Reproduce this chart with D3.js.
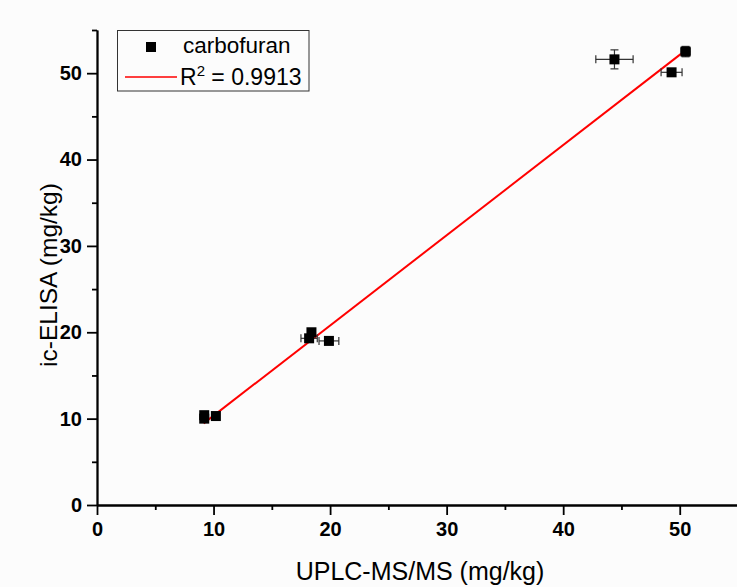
<!DOCTYPE html>
<html>
<head>
<meta charset="utf-8">
<script src="https://cdn.jsdelivr.net/npm/d3@7"></script>
<style>
  body { margin: 0; background: #fcfcfc; }
  svg { display: block; font-family: "Liberation Sans", Arial, sans-serif; }
</style>
</head>
<body>
<div id="chart"></div>
<script>
// data
var uplc  = [9.2, 9.2, 10.2, 18.4, 18.2, 19.9, 44.4, 49.3, 50.5];
var elisa = [10.0, 10.4, 10.3, 20.0, 19.3, 19.0, 51.6, 50.1, 52.5];
var xErr  = [0.3, 0.3, 0.3, 0.3, 0.7, 0.85, 1.6, 0.9, 0.4];
var yErr  = [0.3, 0.3, 0.3, 0.3, 0.3, 0.3, 1.1, 0.3, 0.6];
var fitX  = [9.15, 50.55];
var fitY  = [9.45, 52.7];
var majorTicks = [0, 10, 20, 30, 40, 50];
var minorTicks = [5, 15, 25, 35, 45, 55];

var W = 737, H = 587;
var margin = {top: 30, right: -1, bottom: 82, left: 97};

var svg = d3.select("#chart").append("svg")
  .attr("width", W).attr("height", H);

var x = d3.scaleLinear().domain([0, 55]).range([margin.left, W - margin.right]);
var y = d3.scaleLinear().domain([0, 55]).range([H - margin.bottom, margin.top]);

var points = uplc.map(function(v, i) {
  return {x: v, y: elisa[i], ex: xErr[i], ey: yErr[i]};
});

// axes
function styleAxis(g) {
  g.selectAll("path, line").attr("stroke", "#000").attr("stroke-width", 1.8);
  g.selectAll("text").attr("fill", "#000")
    .style("font-family", "'Liberation Sans', Arial, sans-serif")
    .style("font-size", "20px").style("font-weight", "bold");
}

svg.append("g")
  .attr("transform", "translate(0," + y(0) + ")")
  .call(d3.axisBottom(x).tickValues(minorTicks).tickSize(5).tickFormat("").tickSizeOuter(0))
  .call(styleAxis);
svg.append("g")
  .attr("transform", "translate(0," + y(0) + ")")
  .call(d3.axisBottom(x).tickValues(majorTicks).tickSize(10).tickPadding(7).tickSizeOuter(0))
  .call(styleAxis);

svg.append("g")
  .attr("transform", "translate(" + x(0) + ",0)")
  .call(d3.axisLeft(y).tickValues(minorTicks).tickSize(5).tickFormat("").tickSizeOuter(0))
  .call(styleAxis);
svg.append("g")
  .attr("transform", "translate(" + x(0) + ",0)")
  .call(d3.axisLeft(y).tickValues(majorTicks).tickSize(10).tickPadding(5).tickSizeOuter(0))
  .call(styleAxis);

// axis titles
svg.append("text")
  .attr("x", 420)
  .attr("y", 580)
  .attr("text-anchor", "middle")
  .style("font-size", "25px")
  .text("UPLC-MS/MS (mg/kg)");

svg.append("text")
  .attr("transform", "translate(57,275) rotate(-90)")
  .attr("text-anchor", "middle")
  .style("font-size", "24.5px")
  .text("ic-ELISA (mg/kg)");

// fit line
svg.append("line")
  .attr("x1", x(fitX[0])).attr("y1", y(fitY[0]))
  .attr("x2", x(fitX[1])).attr("y2", y(fitY[1]))
  .attr("stroke", "#ff0000").attr("stroke-width", 2);

// error bars
var eb = svg.append("g").attr("stroke", "#333").attr("stroke-width", 1.2);
points.forEach(function(d) {
  var cx = x(d.x), cy = y(d.y);
  eb.append("line").attr("x1", x(d.x - d.ex)).attr("x2", x(d.x + d.ex)).attr("y1", cy).attr("y2", cy);
  eb.append("line").attr("x1", x(d.x - d.ex)).attr("x2", x(d.x - d.ex)).attr("y1", cy - 4).attr("y2", cy + 4);
  eb.append("line").attr("x1", x(d.x + d.ex)).attr("x2", x(d.x + d.ex)).attr("y1", cy - 4).attr("y2", cy + 4);
  eb.append("line").attr("x1", cx).attr("x2", cx).attr("y1", y(d.y - d.ey)).attr("y2", y(d.y + d.ey));
  eb.append("line").attr("x1", cx - 4).attr("x2", cx + 4).attr("y1", y(d.y - d.ey)).attr("y2", y(d.y - d.ey));
  eb.append("line").attr("x1", cx - 4).attr("x2", cx + 4).attr("y1", y(d.y + d.ey)).attr("y2", y(d.y + d.ey));
});

// square markers
svg.selectAll("rect.pt")
  .data(points)
  .enter().append("rect")
  .attr("class", "pt")
  .attr("x", function(d) { return x(d.x) - 5; })
  .attr("y", function(d) { return y(d.y) - 5; })
  .attr("width", 10).attr("height", 10)
  .attr("fill", "#000");

// legend
var lg = svg.append("g");
lg.append("rect")
  .attr("x", 117.5).attr("y", 30.5).attr("width", 191.5).attr("height", 60.5)
  .attr("fill", "#fcfcfc").attr("stroke", "#333").attr("stroke-width", 1);
lg.append("rect")
  .attr("x", 146).attr("y", 42).attr("width", 10).attr("height", 10)
  .attr("fill", "#000");
lg.append("text")
  .attr("x", 183).attr("y", 53)
  .style("font-size", "22.5px")
  .text("carbofuran");
lg.append("line")
  .attr("x1", 125).attr("x2", 177).attr("y1", 77).attr("y2", 77)
  .attr("stroke", "#ff0000").attr("stroke-width", 1.5);
var rt = lg.append("text")
  .attr("x", 180).attr("y", 85)
  .style("font-size", "23px");
rt.append("tspan").text("R");
rt.append("tspan").attr("dy", -9).style("font-size", "15px").text("2");
rt.append("tspan").attr("dy", 9).text(" = 0.9913");
</script>
</body>
</html>
